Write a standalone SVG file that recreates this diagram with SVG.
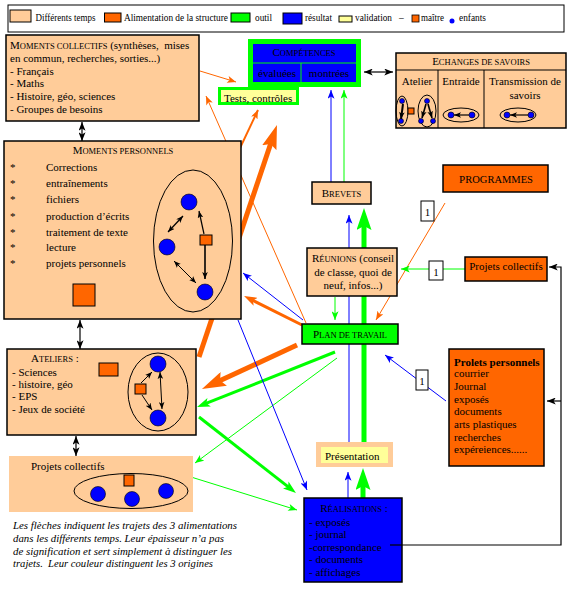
<svg xmlns="http://www.w3.org/2000/svg" width="569" height="595" viewBox="0 0 569 595">
<style>
text { font-family: "Liberation Serif", "Times New Roman", serif; font-size: 11px; fill: #000; }
.sc { font-size: 8.5px; }
.lg { font-size: 9.5px; }
.box { stroke: #000; stroke-width: 1.5; }
.peach { fill: #FFCC99; }
.orange { fill: #FF6600; }
.green { fill: #00FF00; }
.blue { fill: #0000FF; }
.yellow { fill: #FFFF99; }
.ell { fill: none; stroke: #000; stroke-width: 1; }
.kid { fill: #0000FF; stroke: #000; stroke-width: 0.6; }
.mst { fill: #FF6600; stroke: #000; stroke-width: 1; }
.ln { fill: none; }
.k { stroke: #000; stroke-width: 1.2; }
.b { stroke: #0000FF; stroke-width: 1; }
.g { stroke: #00FF00; stroke-width: 1; }
.o { stroke: #FF6600; stroke-width: 1; }
.w1 { stroke-width: 1; }
.w15 { stroke-width: 1.6; }
.w2 { stroke-width: 2; }
.w3 { stroke-width: 3; }
.w5 { stroke-width: 5; }
.lab { fill: #fff; stroke: #000; stroke-width: 1; }
.note { font-style: italic; font-size: 10.5px; }
</style>
<defs>
<marker id="mk" viewBox="0 0 10 8" refX="10" refY="4" markerWidth="9" markerHeight="7" markerUnits="userSpaceOnUse" orient="auto-start-reverse"><path d="M0,0 L10,4 L0,8 L2.5,4 z" fill="#000"/></marker>
<marker id="mks" viewBox="0 0 10 8" refX="10" refY="4" markerWidth="7" markerHeight="6" markerUnits="userSpaceOnUse" orient="auto-start-reverse"><path d="M0,0 L10,4 L0,8 L2.5,4 z" fill="#000"/></marker>
<marker id="mb" viewBox="0 0 10 8" refX="10" refY="4" markerWidth="10" markerHeight="7" markerUnits="userSpaceOnUse" orient="auto"><path d="M0,0 L10,4 L0,8 L2.5,4 z" fill="#0000FF"/></marker>
<marker id="mg" viewBox="0 0 10 8" refX="10" refY="4" markerWidth="10" markerHeight="7" markerUnits="userSpaceOnUse" orient="auto"><path d="M0,0 L10,4 L0,8 L2.5,4 z" fill="#00FF00"/></marker>
<marker id="mo" viewBox="0 0 10 8" refX="10" refY="4" markerWidth="10" markerHeight="7" markerUnits="userSpaceOnUse" orient="auto"><path d="M0,0 L10,4 L0,8 L2.5,4 z" fill="#FF6600"/></marker>
<marker id="mgM" viewBox="0 0 13 9" refX="4" refY="4.5" markerWidth="13" markerHeight="9" markerUnits="userSpaceOnUse" orient="auto"><path d="M0,0 L13,4.5 L0,9 L3,4.5 z" fill="#00FF00"/></marker>
<marker id="moM" viewBox="0 0 13 9" refX="4" refY="4.5" markerWidth="13" markerHeight="9" markerUnits="userSpaceOnUse" orient="auto"><path d="M0,0 L13,4.5 L0,9 L3,4.5 z" fill="#FF6600"/></marker>
<marker id="mgL" viewBox="0 0 22 15" refX="5" refY="7.5" markerWidth="22" markerHeight="15" markerUnits="userSpaceOnUse" orient="auto"><path d="M0,0 L22,7.5 L0,15 L4,7.5 z" fill="#00FF00"/></marker>
<marker id="moL" viewBox="0 0 24 15" refX="5" refY="7.5" markerWidth="24" markerHeight="15" markerUnits="userSpaceOnUse" orient="auto"><path d="M0,0 L24,7.5 L0,15 L4,7.5 z" fill="#FF6600"/></marker>
</defs>

<rect x="0" y="0" width="569" height="595" fill="#fff"/>

<g id="connectors">
  <line class="ln o" x1="200" y1="71" x2="236" y2="82" marker-end="url(#mo)"/>
  <line class="ln o" x1="306" y1="323" x2="206" y2="96" marker-end="url(#mo)"/>
  <line class="ln o w2" x1="232" y1="165" x2="258" y2="110" marker-end="url(#mo)"/>
  <line class="ln o w5" x1="199" y1="357" x2="270.9" y2="143" marker-end="url(#moL)"/>
  <line class="ln o w3" x1="302" y1="325" x2="252.1" y2="300" marker-end="url(#moM)"/>
  <line class="ln o w5" x1="297" y1="345" x2="219.2" y2="381" marker-end="url(#moL)"/>
  <line class="ln o" x1="445" y1="203" x2="376" y2="320" marker-end="url(#mo)"/>
  <line class="ln g w3" x1="335" y1="352" x2="205.4" y2="403.7" marker-end="url(#mgM)"/>
  <line class="ln g" x1="337" y1="358" x2="195" y2="463" marker-end="url(#mg)"/>
  <line class="ln g w3" x1="199" y1="417" x2="288.9" y2="487.4" marker-end="url(#mgM)"/>
  <line class="ln g" x1="191" y1="477" x2="297" y2="510" marker-end="url(#mg)"/>
  <line class="ln b" x1="303" y1="320" x2="243" y2="273" marker-end="url(#mb)"/>
  <line class="ln b" x1="238" y1="320" x2="307" y2="490" marker-end="url(#mb)"/>
  <line class="ln b" x1="446" y1="401" x2="385" y2="355" marker-end="url(#mb)"/>
  <line class="ln b" x1="349" y1="442" x2="349" y2="215" marker-end="url(#mb)"/>
  <line class="ln g w5" x1="364" y1="442" x2="364" y2="225" marker-end="url(#mgL)"/>
  <line class="ln b" x1="331" y1="182" x2="331" y2="90" marker-end="url(#mb)"/>
  <line class="ln g" x1="344" y1="182" x2="344" y2="90" marker-end="url(#mg)"/>
  <line class="ln b" x1="348" y1="498" x2="348" y2="472" marker-end="url(#mb)"/>
  <line class="ln g w5" x1="363" y1="498" x2="363" y2="485" marker-end="url(#mgL)"/>
  <line class="ln g" x1="335" y1="297" x2="335" y2="320" marker-end="url(#mg)"/>
  <line class="ln g" x1="465" y1="269" x2="401" y2="269" marker-end="url(#mg)"/>
  <polyline class="ln k" points="390,545 561,545 561,267 549,267" marker-end="url(#mk)"/>
  <line class="ln k" x1="561" y1="401" x2="547" y2="401" marker-end="url(#mk)"/>
  <line class="ln k" x1="364" y1="72" x2="393" y2="72" marker-start="url(#mk)" marker-end="url(#mk)"/>
  <line class="ln k" x1="82" y1="122" x2="82" y2="141" marker-start="url(#mk)" marker-end="url(#mk)"/>
  <line class="ln k" x1="80" y1="320" x2="80" y2="349" marker-start="url(#mk)" marker-end="url(#mk)"/>
  <line class="ln k" x1="76" y1="436" x2="76" y2="456" marker-start="url(#mk)" marker-end="url(#mk)"/>
  <g id="label-1a"><rect class="lab" x="421" y="201" width="13" height="20"/><text x="427.5" y="216" text-anchor="middle" font-size="12">1</text></g>
  <g id="label-1b"><rect class="lab" x="429" y="261" width="14" height="19"/><text x="436" y="275.5" text-anchor="middle" font-size="12">1</text></g>
  <g id="label-1c"><rect class="lab" x="416" y="370" width="12" height="20"/><text x="422" y="385" text-anchor="middle" font-size="12">1</text></g>
</g>

<g id="legend">
  <rect x="8" y="5" width="556" height="27" fill="none" stroke="#000" stroke-width="1"/>
  <rect x="10" y="10" width="21" height="12" class="peach" stroke="#000" stroke-width="1"/>
  <text class="lg" x="35.5" y="21" textLength="60" lengthAdjust="spacingAndGlyphs">Différents temps</text>
  <rect x="104.5" y="13" width="16.5" height="9" class="orange" stroke="#000" stroke-width="1"/>
  <text class="lg" x="124" y="21" textLength="104" lengthAdjust="spacingAndGlyphs">Alimentation de la structure</text>
  <rect x="231" y="13" width="19" height="9" class="green" stroke="#000" stroke-width="1"/>
  <text class="lg" x="255" y="21" textLength="17" lengthAdjust="spacingAndGlyphs">outil</text>
  <rect x="283" y="13" width="19" height="11" class="blue" stroke="#000" stroke-width="1"/>
  <text class="lg" x="305" y="21" textLength="27" lengthAdjust="spacingAndGlyphs">résultat</text>
  <rect x="339" y="16" width="13" height="6" class="yellow" stroke="#000" stroke-width="1"/>
  <text class="lg" x="355" y="21" textLength="37" lengthAdjust="spacingAndGlyphs">validation</text>
  <text class="lg" x="399" y="21">–</text>
  <rect x="412" y="15" width="7" height="7" class="orange" stroke="#000" stroke-width="0.8"/>
  <text class="lg" x="421" y="21" textLength="23" lengthAdjust="spacingAndGlyphs">maître</text>
  <circle cx="452" cy="21" r="2.5" class="blue"/>
  <text class="lg" x="459" y="21" textLength="27" lengthAdjust="spacingAndGlyphs">enfants</text>
</g>

<g id="moments-collectifs">
  <rect class="box peach" x="6" y="35" width="193" height="86"/>
  <text x="10" y="49" xml:space="preserve">M<tspan class="sc">OMENTS COLLECTIFS</tspan> (synthèses,  mises</text>
  <text x="10" y="62">en commun, recherches, sorties...)</text>
  <text x="10" y="75">- Français</text>
  <text x="10" y="87">- Maths</text>
  <text x="10" y="100">- Histoire, géo, sciences</text>
  <text x="10" y="112.5">- Groupes de besoins</text>
</g>

<g id="moments-personnels">
  <rect class="box peach" x="4" y="141" width="237" height="178"/>
  <text x="123" y="154" text-anchor="middle">M<tspan class="sc">OMENTS PERSONNELS</tspan></text>
  <g>
    <text x="10" y="170.5">*</text><text x="46" y="170.5">Corrections</text>
    <text x="10" y="187">*</text><text x="46" y="187">entraînements</text>
    <text x="10" y="203">*</text><text x="46" y="203">fichiers</text>
    <text x="10" y="219.5">*</text><text x="46" y="219.5">production d’écrits</text>
    <text x="10" y="235.5">*</text><text x="46" y="235.5">traitement de texte</text>
    <text x="10" y="251">*</text><text x="46" y="251">lecture</text>
    <text x="10" y="267">*</text><text x="46" y="267">projets personnels</text>
  </g>
  <rect class="mst" x="73" y="284" width="22" height="22"/>
  <ellipse class="ell" cx="193" cy="241" rx="39.5" ry="71"/>
  <circle class="kid" cx="189" cy="202" r="8"/>
  <circle class="kid" cx="167" cy="247" r="8"/>
  <circle class="kid" cx="205" cy="292" r="8"/>
  <rect class="mst" x="200" y="235" width="12" height="10"/>
  <line class="ln k" x1="204" y1="234" x2="199" y2="211" marker-end="url(#mks)"/>
  <line class="ln k w15" x1="205" y1="245" x2="205" y2="279" marker-end="url(#mks)"/>
  <line class="ln k" x1="183" y1="216" x2="168" y2="232" marker-start="url(#mks)" marker-end="url(#mks)"/>
  <line class="ln k w1" x1="174" y1="261" x2="196" y2="283" marker-start="url(#mks)" marker-end="url(#mks)"/>
</g>

<g id="ateliers">
  <rect class="box peach" x="7" y="349" width="189" height="86"/>
  <text x="31" y="362">A<tspan class="sc">TELIERS</tspan> :</text>
  <text x="12" y="375.5">- Sciences</text>
  <text x="12" y="388">- histoire, géo</text>
  <text x="12" y="400">- EPS</text>
  <text x="12" y="413">- Jeux de société</text>
  <rect class="mst" x="99" y="363" width="19" height="13"/>
  <ellipse class="ell" cx="158" cy="392" rx="30" ry="39"/>
  <circle class="kid" cx="158" cy="364" r="8"/>
  <circle class="kid" cx="158" cy="418" r="8"/>
  <rect class="mst" x="135" y="384" width="11" height="10"/>
  <line class="ln k w1" x1="141" y1="383" x2="152" y2="372" marker-end="url(#mks)"/>
  <line class="ln k w1" x1="142" y1="395" x2="152" y2="410" marker-end="url(#mks)"/>
  <line class="ln k w1" x1="160" y1="372" x2="162" y2="409" marker-start="url(#mks)" marker-end="url(#mks)"/>
</g>

<g id="projets-collectifs-gauche">
  <rect class="peach" x="9" y="456" width="184" height="56"/>
  <text x="31" y="469.5">Projets collectifs</text>
  <ellipse class="ell" cx="131" cy="491" rx="57" ry="17.5"/>
  <rect class="mst" x="124" y="475" width="10" height="11"/>
  <circle class="kid" cx="98" cy="494" r="7.5"/>
  <circle class="kid" cx="132" cy="499" r="7.5"/>
  <circle class="kid" cx="166" cy="491" r="7.5"/>
</g>

<g id="competences">
  <rect x="250.5" y="41.5" width="108" height="43" fill="#0000FF" stroke="#00FF00" stroke-width="5"/>
  <line x1="253" y1="63" x2="356" y2="63" stroke="#00FF00" stroke-width="1"/>
  <line x1="301" y1="63" x2="301" y2="84" stroke="#00FF00" stroke-width="1"/>
  <text x="304" y="56" text-anchor="middle">C<tspan class="sc">OMPÉTENCES</tspan></text>
  <text x="277" y="76.5" text-anchor="middle">évaluées</text>
  <text x="329" y="76.5" text-anchor="middle">montrées</text>
</g>

<g id="tests">
  <rect x="219.5" y="88.5" width="78" height="15" class="yellow" stroke="#00FF00" stroke-width="3"/>
  <text x="224" y="101.5">Tests, contrôles</text>
</g>

<g id="echanges">
  <rect class="box peach" x="396" y="53" width="170" height="75"/>
  <line class="k w1" x1="396" y1="70" x2="566" y2="70"/>
  <line class="k w1" x1="438" y1="70" x2="438" y2="128"/>
  <line class="k w1" x1="484" y1="70" x2="484" y2="128"/>
  <text x="481" y="65" text-anchor="middle">E<tspan class="sc">CHANGES DE SAVOIRS</tspan></text>
  <text x="417" y="85" text-anchor="middle">Atelier</text>
  <text x="461" y="85" text-anchor="middle">Entraide</text>
  <text x="525" y="85" text-anchor="middle">Transmission de</text>
  <text x="525" y="99" text-anchor="middle">savoirs</text>
  <ellipse class="ell" cx="402" cy="111" rx="6" ry="15"/>
  <circle class="kid" cx="402" cy="101" r="2.5"/>
  <circle class="kid" cx="401" cy="121" r="2.5"/>
  <rect class="mst" x="408" y="108" width="6" height="6"/>
  <line class="ln k w2" x1="403" y1="104" x2="401" y2="119" marker-end="url(#mks)"/>
  <ellipse class="ell" cx="427" cy="111" rx="9" ry="16"/>
  <circle class="kid" cx="427" cy="101" r="2.5"/>
  <circle class="kid" cx="421" cy="121" r="2.5"/>
  <circle class="kid" cx="433" cy="121" r="2.5"/>
  <line class="ln k w15" x1="426" y1="104" x2="422" y2="118" marker-end="url(#mks)"/>
  <line class="ln k w15" x1="428" y1="104" x2="432" y2="118" marker-end="url(#mks)"/>
  <ellipse class="ell" cx="461" cy="115" rx="18" ry="7"/>
  <circle class="kid" cx="451" cy="115" r="3"/>
  <circle class="kid" cx="472" cy="115" r="3"/>
  <line class="ln k" x1="469" y1="115" x2="454" y2="115" marker-end="url(#mks)"/>
  <ellipse class="ell" cx="518" cy="115" rx="18" ry="7"/>
  <circle class="kid" cx="507" cy="115" r="3"/>
  <circle class="kid" cx="531" cy="115" r="3"/>
  <line class="ln k" x1="528" y1="115" x2="510" y2="115" marker-end="url(#mks)"/>
</g>

<g id="brevets">
  <rect class="box peach" x="312" y="182" width="59" height="22"/>
  <text x="341.5" y="197" text-anchor="middle">B<tspan class="sc">REVETS</tspan></text>
</g>

<g id="programmes">
  <rect class="box orange" x="443" y="165" width="105" height="27"/>
  <text x="496" y="183" text-anchor="middle" font-size="13">P<tspan font-size="10.5">ROGRAMMES</tspan></text>
</g>

<g id="reunions">
  <rect class="box peach" x="307" y="248" width="90" height="48"/>
  <text x="353" y="262" text-anchor="middle">R<tspan class="sc">ÉUNIONS</tspan> (conseil</text>
  <text x="353" y="275.5" text-anchor="middle">de classe, quoi de</text>
  <text x="353" y="288.5" text-anchor="middle">neuf, infos...)</text>
</g>

<g id="projets-collectifs-droite">
  <rect class="box orange" x="465" y="257" width="82" height="24"/>
  <text x="506" y="270" text-anchor="middle">Projets collectifs</text>
</g>

<g id="plan-de-travail">
  <rect class="box green" x="302" y="324" width="96" height="20"/>
  <text x="350" y="338" text-anchor="middle">P<tspan class="sc">LAN DE TRAVAIL</tspan></text>
</g>

<g id="projets-personnels">
  <rect class="box orange" x="449" y="349" width="95" height="117"/>
  <text x="454" y="365.5" font-weight="bold">Prolets personnels</text>
  <text x="454" y="377">courrier</text>
  <text x="454" y="390">Journal</text>
  <text x="454" y="402.5">exposés</text>
  <text x="454" y="415">documents</text>
  <text x="454" y="428">arts plastiques</text>
  <text x="454" y="440.5">recherches</text>
  <text x="454" y="453">expéreiences......</text>
</g>

<g id="presentation">
  <rect class="peach" x="316" y="442" width="77" height="25"/>
  <rect class="yellow" x="321" y="447" width="67" height="16"/>
  <text x="325" y="460">Présentation</text>
</g>

<g id="realisations">
  <rect class="box blue" x="304" y="498" width="98" height="84"/>
  <text x="354" y="512" text-anchor="middle">R<tspan class="sc">ÉALISATIONS</tspan> :</text>
  <text x="309" y="525.5">- exposés</text>
  <text x="309" y="538">- journal</text>
  <text x="309" y="550.5">-correspondance</text>
  <text x="309" y="563">- documents</text>
  <text x="309" y="576">- affichages</text>
  <line class="k" x1="390" y1="545" x2="402" y2="545"/>
</g>

<g id="note">
  <text class="note" x="13" y="529" textLength="224" lengthAdjust="spacingAndGlyphs">Les flèches indiquent les trajets des 3 alimentations</text>
  <text class="note" x="13" y="542" textLength="211" lengthAdjust="spacingAndGlyphs">dans les différents temps. Leur épaisseur n’a pas</text>
  <text class="note" x="13" y="555" textLength="219" lengthAdjust="spacingAndGlyphs">de signification et sert simplement à distinguer les</text>
  <text class="note" x="13" y="567" textLength="200" lengthAdjust="spacingAndGlyphs" xml:space="preserve">trajets.  Leur couleur distinguent les 3 origines</text>
</g>
</svg>
